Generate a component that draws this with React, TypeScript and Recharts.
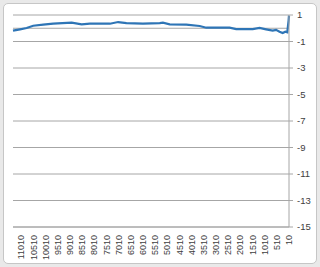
import { LineChart, Line, XAxis, YAxis, CartesianGrid, ReferenceLine } from 'recharts';

// x positions (category value) and the series
const positions = [
    11350, 11060, 10790, 10520, 10110, 9700, 8940, 8530, 8190, 7370, 7030, 6690,
    6010, 5320, 5190, 4910, 4230, 3680, 3410, 2450, 2180, 1500, 1220, 950,
    680, 540, 400, 270, 160, 80, 25, 10
];
const values = [
    -0.18, -0.08, 0.02, 0.19, 0.27, 0.34, 0.42, 0.3, 0.34, 0.34, 0.47, 0.38,
    0.34, 0.38, 0.42, 0.3, 0.27, 0.17, 0.04, 0.04, -0.06, -0.06, 0.02, -0.08,
    -0.18, -0.12, -0.26, -0.36, -0.26, -0.3, 0.6, 0.95
];
const xTicks = [
    11010, 10510, 10010, 9510, 9010, 8510, 8010, 7510, 7010, 6510, 6010, 5510,
    5010, 4510, 4010, 3510, 3010, 2510, 2010, 1510, 1010, 510, 10
];
const yTicks = [1, -1, -3, -5, -7, -9, -11, -13, -15];

const data = positions.map((p, i) => ({ x: p, v: values[i] }));

const FONT = '"Liberation Sans", Arial, sans-serif';

// rotated category labels, reading bottom to top
const RotatedTick = ({ x, y, payload }: any) => (
    <text
        x={x}
        y={y}
        transform={`rotate(-90, ${x}, ${y})`}
        textAnchor="end"
        dy="0.35em"
        fontSize={9}
        fontFamily={FONT}
        fill="#404040"
    >
        {payload.value}
    </text>
);

export default function App() {
    return (
        <div style={{ position: 'absolute', left: 0, top: 0, width: 320, height: 267, background: '#e9e9e9' }}>
            <div
                style={{
                    position: 'absolute',
                    left: 3,
                    top: 3,
                    width: 312,
                    height: 259,
                    background: '#fff',
                    border: '1px solid #c6c6c6',
                    borderRadius: 5
                }}
            />
            <div style={{ position: 'absolute', left: 0, top: 0 }}>
                <LineChart width={320} height={267} data={data} margin={{ top: 15, right: 3, left: 13, bottom: 4 }}>
                    <CartesianGrid vertical={false} stroke="#a6a6a6" />
                    <XAxis
                        dataKey="x"
                        type="number"
                        domain={[10, 11350]}
                        reversed
                        ticks={xTicks}
                        interval={0}
                        tick={<RotatedTick />}
                        tickLine={false}
                        axisLine={{ stroke: '#a6a6a6' }}
                        height={36}
                        tickMargin={2}
                    />
                    <YAxis
                        orientation="right"
                        type="number"
                        domain={[-15, 1]}
                        ticks={yTicks}
                        interval={0}
                        width={28}
                        tickSize={4}
                        tickMargin={4}
                        tickLine={{ stroke: '#a6a6a6' }}
                        axisLine={{ stroke: '#a6a6a6' }}
                        tick={{ fontSize: 9.5, fill: '#404040', fontFamily: FONT, textAnchor: 'start' }}
                    />
                    <ReferenceLine y={0} stroke="#a6a6a6" />
                    <Line
                        type="linear"
                        dataKey="v"
                        stroke="#2e75b6"
                        strokeWidth={2.25}
                        dot={false}
                        isAnimationActive={false}
                    />
                </LineChart>
            </div>
        </div>
    );
}
